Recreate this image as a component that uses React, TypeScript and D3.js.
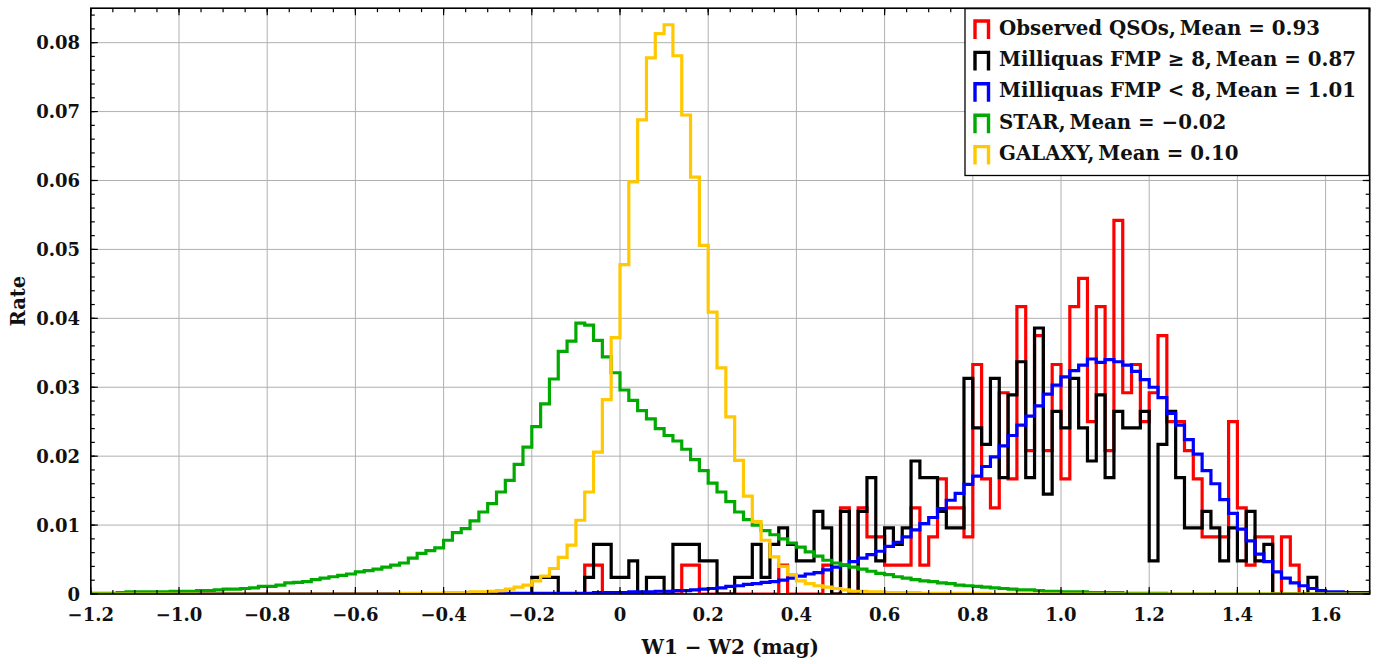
import React from 'react';
import * as d3 from 'd3';

// ---------------- data (rates per 0.02-mag bin) ----------------
const BIN_WIDTH = 0.02;
const X_MIN = -1.2;
const X_MAX = 1.7;
const Y_MAX = 0.085;

const xTickValues = [-1.2, -1.0, -0.8, -0.6, -0.4, -0.2, 0, 0.2, 0.4, 0.6, 0.8, 1.0, 1.2, 1.4, 1.6];
const xTickLabels = ['−1.2', '−1.0', '−0.8', '−0.6', '−0.4', '−0.2', '0', '0.2', '0.4', '0.6', '0.8', '1.0', '1.2', '1.4', '1.6'];
const yTickValues = [0, 0.01, 0.02, 0.03, 0.04, 0.05, 0.06, 0.07, 0.08];
const yTickLabels = ['0', '0.01', '0.02', '0.03', '0.04', '0.05', '0.06', '0.07', '0.08'];

// Observed QSOs (red), first bin starts at -0.08
const qsoStart = -0.08;
const qsoRates = [
  0.0042, 0.0042, 0, 0, 0, 0, 0, 0, 0, 0,
  0, 0.0042, 0.0042, 0, 0, 0, 0, 0, 0, 0,
  0, 0, 0.0042, 0, 0, 0, 0, 0.0042, 0, 0.0125,
  0, 0.0125, 0.0083, 0.0083, 0.0042, 0.0042, 0.0042, 0.0125, 0.0042, 0.0083,
  0.0167, 0.0125, 0.0125, 0.0083, 0.0333, 0.0167, 0.0125, 0.0292, 0.0167, 0.0417,
  0.0208, 0.0375, 0.0208, 0.0333, 0.0167, 0.0417, 0.0458, 0.0250, 0.0417, 0.0208,
  0.0542, 0.0292, 0.0333, 0.0250, 0.0292, 0.0375, 0.0250, 0.0250, 0.0208, 0.0167,
  0.0083, 0.0083, 0.0083, 0.0250, 0.0125, 0.0042, 0.0083, 0.0083, 0, 0.0083,
  0.0042,
];

// Milliquas FMP >= 8 (black), first bin starts at -0.20
const fmpHighStart = -0.2;
const fmpHighRates = [
  0.0024, 0.0024, 0.0024, 0, 0, 0, 0.0024, 0.0072, 0.0072, 0.0024,
  0.0024, 0.0048, 0, 0.0024, 0.0024, 0, 0.0072, 0.0072, 0.0072, 0.0048,
  0.0048, 0, 0, 0.0024, 0.0024, 0.0072, 0.0024, 0.0072, 0.0096, 0.0072,
  0.0048, 0.0048, 0.0120, 0.0096, 0, 0.0120, 0, 0.0120, 0.0169, 0.0048,
  0.0096, 0.0072, 0.0096, 0.0193, 0.0169, 0.0169, 0.0120, 0.0096, 0.0096, 0.0313,
  0.0241, 0.0217, 0.0313, 0.0169, 0.0289, 0.0337, 0.0169, 0.0386, 0.0145, 0.0265,
  0.0241, 0.0313, 0.0241, 0.0193, 0.0289, 0.0169, 0.0265, 0.0241, 0.0241, 0.0265,
  0.0048, 0.0217, 0.0265, 0.0169, 0.0096, 0.0096, 0.0120, 0.0096, 0.0048, 0.0096,
  0.0048, 0.0120, 0.0048, 0.0072, 0, 0, 0, 0, 0.0024,
];

// Milliquas FMP < 8 (blue), first bin starts at -0.26
const fmpLowStart = -0.26;
const fmpLowRates = [
  0.0001, 0.0001, 0.0001, 0.0001, 0.0001, 0.0001, 0.0001, 0.0001, 0.0001, 0.0001,
  0.0002, 0.0002, 0.0002, 0.0002, 0.0003, 0.0003, 0.0003, 0.0004, 0.0004, 0.0005,
  0.0005, 0.0006, 0.0007, 0.0008, 0.0009, 0.0011, 0.0012, 0.0014, 0.0015, 0.0017,
  0.0018, 0.0020, 0.0023, 0.0026, 0.0029, 0.0031, 0.0035, 0.0039, 0.0042, 0.0047,
  0.0052, 0.0057, 0.0062, 0.0069, 0.0075, 0.0083, 0.0093, 0.0102, 0.0111, 0.0124,
  0.0136, 0.0146, 0.0159, 0.0171, 0.0185, 0.0199, 0.0215, 0.0230, 0.0245, 0.0258,
  0.0273, 0.0290, 0.0303, 0.0315, 0.0324, 0.0332, 0.0341, 0.0336, 0.0340, 0.0337,
  0.0332, 0.0323, 0.0311, 0.0300, 0.0285, 0.0262, 0.0245, 0.0224, 0.0203, 0.0179,
  0.0160, 0.0137, 0.0117, 0.0094, 0.0077, 0.0058, 0.0047, 0.0032, 0.0023, 0.0016,
  0.0012, 0.0008, 0.0005, 0.0003, 0.0003, 0.0002, 0.0002, 0.0002,
];

// STAR (green), first bin starts at -1.20
const starStart = -1.2;
const starRates = [
  0.0001, 0.0001, 0.0001, 0.0002, 0.0003, 0.0003, 0.0003, 0.0003, 0.0003, 0.0004,
  0.0004, 0.0004, 0.0005, 0.0005, 0.0006, 0.0007, 0.0007, 0.0008, 0.0009, 0.0011,
  0.0011, 0.0013, 0.0016, 0.0017, 0.0018, 0.0021, 0.0023, 0.0025, 0.0027, 0.0029,
  0.0032, 0.0034, 0.0036, 0.0039, 0.0042, 0.0045, 0.0052, 0.0059, 0.0063, 0.0067,
  0.0078, 0.0089, 0.0095, 0.0106, 0.0119, 0.0131, 0.0148, 0.0165, 0.0188, 0.0213,
  0.0243, 0.0276, 0.0312, 0.0352, 0.0367, 0.0393, 0.0390, 0.0368, 0.0344, 0.0321,
  0.0296, 0.0281, 0.0266, 0.0254, 0.0240, 0.0230, 0.0222, 0.0210, 0.0195, 0.0179,
  0.0161, 0.0148, 0.0134, 0.0119, 0.0108, 0.0100, 0.0092, 0.0086, 0.0080, 0.0074,
  0.0068, 0.0061, 0.0055, 0.0049, 0.0045, 0.0042, 0.0039, 0.0036, 0.0033, 0.0030,
  0.0028, 0.0025, 0.0023, 0.0021, 0.0019, 0.0018, 0.0016, 0.0015, 0.0013, 0.0012,
  0.0011, 0.0010, 0.0009, 0.0008, 0.0007, 0.0006, 0.0006, 0.0005, 0.0004, 0.0004,
  0.0003, 0.0003, 0.0003, 0.0002, 0.0002, 0.0002, 0.0002, 0.0001, 0.0001, 0.0001,
  0.0001, 0.0001,
];

// GALAXY (yellow), first bin starts at -0.50
const galaxyStart = -0.5;
const galaxyRates = [
  0.0001, 0.0001, 0.0001, 0.0001, 0.0001, 0.0002, 0.0002, 0.0002, 0.0003, 0.0003,
  0.0004, 0.0005, 0.0007, 0.0010, 0.0013, 0.0019, 0.0026, 0.0037, 0.0053, 0.0071,
  0.0107, 0.0148, 0.0206, 0.0282, 0.0372, 0.0478, 0.0598, 0.0688, 0.0778, 0.0813,
  0.0826, 0.0781, 0.0695, 0.0605, 0.0506, 0.0409, 0.0328, 0.0257, 0.0194, 0.0142,
  0.0105, 0.0078, 0.0054, 0.0040, 0.0028, 0.0019, 0.0015, 0.0012, 0.0010, 0.0008,
  0.0006, 0.0004, 0.0004, 0.0003, 0.0003, 0.0002, 0.0002, 0.0002, 0.0002, 0.0001,
  0.0001, 0.0001, 0.0001, 0.0001, 0.0001, 0.0001, 0.0001,
];

const seriesLabels = [
  'Observed QSOs,\u2009Mean = 0.93',
  'Milliquas FMP ≥ 8,\u2009Mean = 0.87',
  'Milliquas FMP < 8,\u2009Mean = 1.01',
  'STAR,\u2009Mean = −0.02',
  'GALAXY,\u2009Mean = 0.10',
];
const seriesColors = ['#ff0000', '#000000', '#0000ff', '#00aa00', '#ffc800'];

// ---------------- layout ----------------
const W = 1384;
const H = 664;
const M = { left: 90.8, right: 1369.7, top: 8.2, bottom: 594 };
const FONT = "'DejaVu Serif', 'Liberation Serif', serif";

const nBins = Math.round((X_MAX - X_MIN) / BIN_WIDTH);
const edges = d3.range(nBins + 1).map((i) => +(X_MIN + i * BIN_WIDTH).toFixed(4));

function expand(start: number, rates: number[]): number[] {
  const out = new Array(nBins).fill(0);
  const offset = Math.round((start - X_MIN) / BIN_WIDTH);
  rates.forEach((r, i) => {
    if (offset + i >= 0 && offset + i < nBins) out[offset + i] = r;
  });
  return out;
}

const seriesData = [
  expand(qsoStart, qsoRates),
  expand(fmpHighStart, fmpHighRates),
  expand(fmpLowStart, fmpLowRates),
  expand(starStart, starRates),
  expand(galaxyStart, galaxyRates),
];

export default function App() {
  const x = d3.scaleLinear().domain([X_MIN, X_MAX]).range([M.left, M.right]);
  const y = d3.scaleLinear().domain([0, Y_MAX]).range([M.bottom, M.top]);

  const line = d3
    .line<[number, number]>()
    .x((d) => x(d[0]))
    .y((d) => y(d[1]));

  const stepPath = (rates: number[]) => {
    const pts: [number, number][] = [[edges[0], 0]];
    rates.forEach((r, i) => {
      pts.push([edges[i], r]);
      pts.push([edges[i + 1], r]);
    });
    pts.push([edges[nBins], 0]);
    return line(pts) || '';
  };

  const xMinor = d3.range(0, 59).map((i) => +(X_MIN + i * 0.05).toFixed(3)).filter((v) => v <= X_MAX + 1e-9);
  const yMinor = d3.range(0, 43).map((i) => +(i * 0.002).toFixed(4)).filter((v) => v <= Y_MAX);

  const majorLen = 7;
  const minorLen = 4;

  const legendX0 = 965;
  const legendY0 = 8.6;
  const legendX1 = 1369;
  const legendY1 = 175.5;
  const rowCenters = [30, 61.4, 92.8, 124.2, 155.6];

  return (
    <svg
      width={W}
      height={H}
      style={{ position: 'absolute', left: 0, top: 0, background: '#fff' }}
      fontFamily={FONT}
    >
      <defs>
        <clipPath id="plotClip">
          <rect x={M.left} y={M.top} width={M.right - M.left} height={M.bottom - M.top} />
        </clipPath>
      </defs>
      <rect x={0} y={0} width={W} height={H} fill="#fff" />

      {/* grid */}
      <g stroke="#b0b0b0" strokeWidth={1}>
        {xTickValues.map((v) => (
          <line key={'gx' + v} x1={x(v)} x2={x(v)} y1={M.top} y2={M.bottom} />
        ))}
        {yTickValues.map((v) => (
          <line key={'gy' + v} x1={M.left} x2={M.right} y1={y(v)} y2={y(v)} />
        ))}
      </g>

      {/* histograms */}
      <g clipPath="url(#plotClip)" fill="none" strokeWidth={3.2} strokeLinejoin="miter">
        {seriesData.map((rates, i) => (
          <path key={'s' + i} d={stepPath(rates)} stroke={seriesColors[i]} />
        ))}
      </g>

      {/* ticks */}
      <g stroke="#000" strokeWidth={1.2}>
        {xMinor.map((v) => (
          <g key={'xm' + v}>
            <line x1={x(v)} x2={x(v)} y1={M.bottom} y2={M.bottom - minorLen} />
            <line x1={x(v)} x2={x(v)} y1={M.top} y2={M.top + minorLen} />
          </g>
        ))}
        {xTickValues.map((v) => (
          <g key={'xM' + v}>
            <line x1={x(v)} x2={x(v)} y1={M.bottom} y2={M.bottom - majorLen} />
            <line x1={x(v)} x2={x(v)} y1={M.top} y2={M.top + majorLen} />
          </g>
        ))}
        {yMinor.map((v) => (
          <g key={'ym' + v}>
            <line x1={M.left} x2={M.left + minorLen} y1={y(v)} y2={y(v)} />
            <line x1={M.right} x2={M.right - minorLen} y1={y(v)} y2={y(v)} />
          </g>
        ))}
        {yTickValues.map((v) => (
          <g key={'yM' + v}>
            <line x1={M.left} x2={M.left + majorLen} y1={y(v)} y2={y(v)} />
            <line x1={M.right} x2={M.right - majorLen} y1={y(v)} y2={y(v)} />
          </g>
        ))}
      </g>

      {/* frame */}
      <rect
        x={M.left}
        y={M.top}
        width={M.right - M.left}
        height={M.bottom - M.top}
        fill="none"
        stroke="#000"
        strokeWidth={1.6}
      />

      {/* tick labels */}
      <g fontSize={18} fontWeight="bold" fill="#111">
        {xTickValues.map((v, i) => (
          <text key={'xl' + v} x={x(v)} y={621} textAnchor="middle">
            {xTickLabels[i]}
          </text>
        ))}
        {yTickValues.map((v, i) => (
          <text key={'yl' + v} x={80} y={y(v) + 6.5} textAnchor="end">
            {yTickLabels[i]}
          </text>
        ))}
      </g>

      {/* axis titles */}
      <text x={(M.left + M.right) / 2} y={654} textAnchor="middle" fontSize={20} fontWeight="bold" fill="#111">
        W1 − W2 (mag)
      </text>
      <text
        transform={`translate(25, ${(M.top + M.bottom) / 2}) rotate(-90)`}
        textAnchor="middle"
        fontSize={19.5}
        fontWeight="bold"
        fill="#111"
      >
        Rate
      </text>

      {/* legend */}
      <rect
        x={legendX0}
        y={legendY0}
        width={legendX1 - legendX0}
        height={legendY1 - legendY0}
        fill="#fff"
        stroke="#000"
        strokeWidth={1.3}
      />
      {seriesLabels.map((lab, i) => {
        const cy = rowCenters[i];
        return (
          <g key={'lg' + i}>
            <path
              d={`M975,${cy + 9} V${cy - 9} H988.5 V${cy + 9}`}
              fill="none"
              stroke={seriesColors[i]}
              strokeWidth={3.4}
            />
            <text x={999} y={cy + 4.5} fontSize={19.8} fontWeight="bold" fill="#111">
              {lab}
            </text>
          </g>
        );
      })}
    </svg>
  );
}
